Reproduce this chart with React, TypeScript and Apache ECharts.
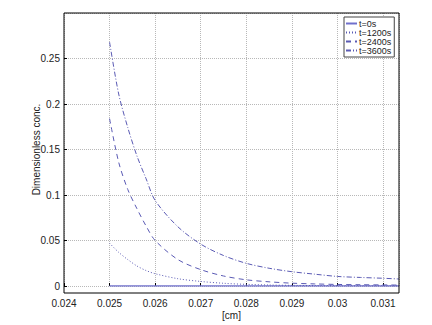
import React, { useEffect, useRef } from "react";
import * as echarts from "echarts";

const xTicks = [0.024, 0.025, 0.026, 0.027, 0.028, 0.029, 0.03, 0.031];
const yTicks = [0, 0.05, 0.1, 0.15, 0.2, 0.25];

const seriesNames = ["t=0s", "t=1200s", "t=2400s", "t=3600s"];

const x0 = [0.025, 0.03135];
const y0 = [0, 0];

const xs = [0.025, 0.0252, 0.0254, 0.0256, 0.0258, 0.026, 0.0265, 0.027, 0.0275, 0.028, 0.0285, 0.029, 0.0295, 0.03, 0.0305, 0.031, 0.03135];
const y1200 = [0.047, 0.037, 0.029, 0.022, 0.017, 0.0135, 0.008, 0.005, 0.003, 0.0018, 0.0011, 0.0007, 0.0005, 0.0003, 0.0002, 0.0001, 0.0001];
const y2400 = [0.184, 0.136, 0.106, 0.085, 0.066, 0.05, 0.029, 0.018, 0.011, 0.0068, 0.0046, 0.0031, 0.0023, 0.0017, 0.0014, 0.0012, 0.001];
const y3600 = [0.268, 0.211, 0.174, 0.143, 0.118, 0.094, 0.065, 0.046, 0.0335, 0.0249, 0.0195, 0.0157, 0.013, 0.0105, 0.0094, 0.0085, 0.0077];

const LINE = "#5a5ab4";
const FONT = "Liberation Sans";

function pairs(x: number[], y: number[]) {
  return x.map((v, i) => [v, y[i]]);
}

export default function App() {
  const ref = useRef<HTMLDivElement>(null);
  useEffect(() => {
    if (!ref.current) return;
    const chart = echarts.init(ref.current, null, { renderer: "svg" });
    const fmt = (v: number) => String(parseFloat(v.toFixed(4)));
    chart.setOption({
      animation: false,
      backgroundColor: "#fff",
      textStyle: { fontFamily: FONT },
      grid: { left: 64, right: 33, top: 13, bottom: 39, outerBoundsMode: "none", containLabel: false },
      xAxis: {
        type: "value",
        min: xTicks[0],
        max: 0.03135,
        interval: 0.001,
        offset: 7,
        name: "[cm]",
        nameLocation: "middle",
        nameGap: 17,
        nameMoveOverlap: false,
        nameTextStyle: { fontSize: 10, color: "#222", fontFamily: FONT },
        axisLine: { show: false },
        axisTick: { show: true, inside: true, length: 3, lineStyle: { color: "#000" } },
        axisLabel: { fontSize: 10, color: "#222", margin: 5, formatter: fmt, showMaxLabel: false, fontFamily: FONT },
        splitLine: { show: true, lineStyle: { color: "#b8b8b8", type: "dotted", width: 1 } },
      },
      yAxis: {
        type: "value",
        min: yTicks[0],
        max: 0.3,
        interval: 0.05,
        name: "Dimensionless conc.",
        nameLocation: "middle",
        nameGap: 23,
        nameMoveOverlap: false,
        nameTextStyle: { fontSize: 10, color: "#222", fontFamily: FONT },
        axisLine: { show: false },
        axisTick: { show: true, inside: true, length: 3, lineStyle: { color: "#000" } },
        axisLabel: { fontSize: 10, color: "#222", margin: 4, formatter: fmt, showMaxLabel: false, fontFamily: FONT },
        splitLine: { show: true, lineStyle: { color: "#b8b8b8", type: "dotted", width: 1 } },
      },
      legend: {
        orient: "vertical",
        left: 344,
        top: 17,
        itemWidth: 11,
        itemHeight: 8,
        itemGap: 0,
        padding: [2, 3, 2, 1],
        backgroundColor: "#fff",
        borderColor: "#444",
        borderWidth: 1,
        borderRadius: 0,
        itemStyle: { color: "rgba(0,0,0,0)", borderWidth: 0, opacity: 0 },
        textStyle: { fontSize: 9, color: "#222", fontFamily: FONT, padding: [0, 0, 0, -3] },
        data: seriesNames,
      },
      graphic: [
        {
          type: "rect",
          shape: { x: 64, y: 13, width: 335, height: 280 },
          style: { fill: "none", stroke: "#000", lineWidth: 1 },
          silent: true,
          z: 100,
        },
      ],
      series: [
        { name: seriesNames[0], type: "line", symbol: "none", data: pairs(x0, y0), lineStyle: { color: "#7070cc", width: 1.5, type: "solid" }, itemStyle: { color: "#7070cc" } },
        { name: seriesNames[1], type: "line", symbol: "none", smooth: 0.3, data: pairs(xs, y1200), lineStyle: { color: LINE, width: 1, type: [1, 2] }, itemStyle: { color: LINE } },
        { name: seriesNames[2], type: "line", symbol: "none", smooth: 0.3, data: pairs(xs, y2400), lineStyle: { color: LINE, width: 1, type: [5, 4] }, itemStyle: { color: LINE } },
        { name: seriesNames[3], type: "line", symbol: "none", smooth: 0.3, data: pairs(xs, y3600), lineStyle: { color: LINE, width: 1, type: [5, 2, 1, 2] }, itemStyle: { color: LINE } },
      ],
    });
    return () => chart.dispose();
  }, []);
  return <div ref={ref} style={{ width: 432, height: 325, position: "absolute", left: 0, top: 0 }} />;
}
